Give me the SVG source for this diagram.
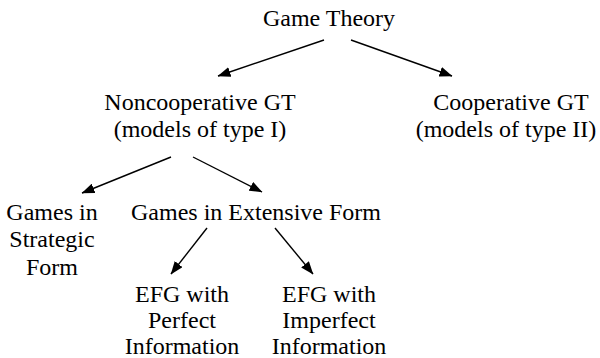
<svg xmlns="http://www.w3.org/2000/svg" width="600" height="358" viewBox="0 0 600 358">
  <defs>
    <marker id="ah" markerWidth="13" markerHeight="10" refX="12.5" refY="5" orient="auto" markerUnits="userSpaceOnUse">
      <path d="M0,0 L13,5 L0,10 Z" fill="#000"/>
    </marker>
  </defs>
  <rect width="600" height="358" fill="#fff"/>
  <g font-family="Liberation Serif" font-size="24" text-anchor="middle" fill="#000">
    <g id="game-theory"><text x="329" y="26">Game Theory</text></g>
    <g id="noncooperative">
      <text x="200" y="110">Noncooperative GT</text>
      <text x="200" y="137">(models of type I)</text>
    </g>
    <g id="cooperative">
      <text x="511" y="110">Cooperative GT</text>
      <text x="506" y="137">(models of type II)</text>
    </g>
    <g id="strategic">
      <text x="52" y="220">Games in</text>
      <text x="52" y="247">Strategic</text>
      <text x="52" y="275">Form</text>
    </g>
    <g id="extensive"><text x="131" y="220" text-anchor="start">Games in Extensive Form</text></g>
    <g id="perfect">
      <text x="182" y="302">EFG with</text>
      <text x="182" y="328">Perfect</text>
      <text x="182" y="354">Information</text>
    </g>
    <g id="imperfect">
      <text x="329" y="302">EFG with</text>
      <text x="329" y="328">Imperfect</text>
      <text x="329" y="354">Information</text>
    </g>
  </g>
  <g id="connectors" stroke="#000" stroke-width="1.4" fill="none" marker-end="url(#ah)">
    <line x1="324" y1="40" x2="218" y2="76"/>
    <line x1="351" y1="40" x2="452" y2="76"/>
    <line x1="171" y1="157" x2="82" y2="193"/>
    <line x1="193" y1="157" x2="262" y2="192"/>
    <line x1="207" y1="228" x2="171" y2="274"/>
    <line x1="275" y1="228" x2="313" y2="274"/>
  </g>
</svg>
